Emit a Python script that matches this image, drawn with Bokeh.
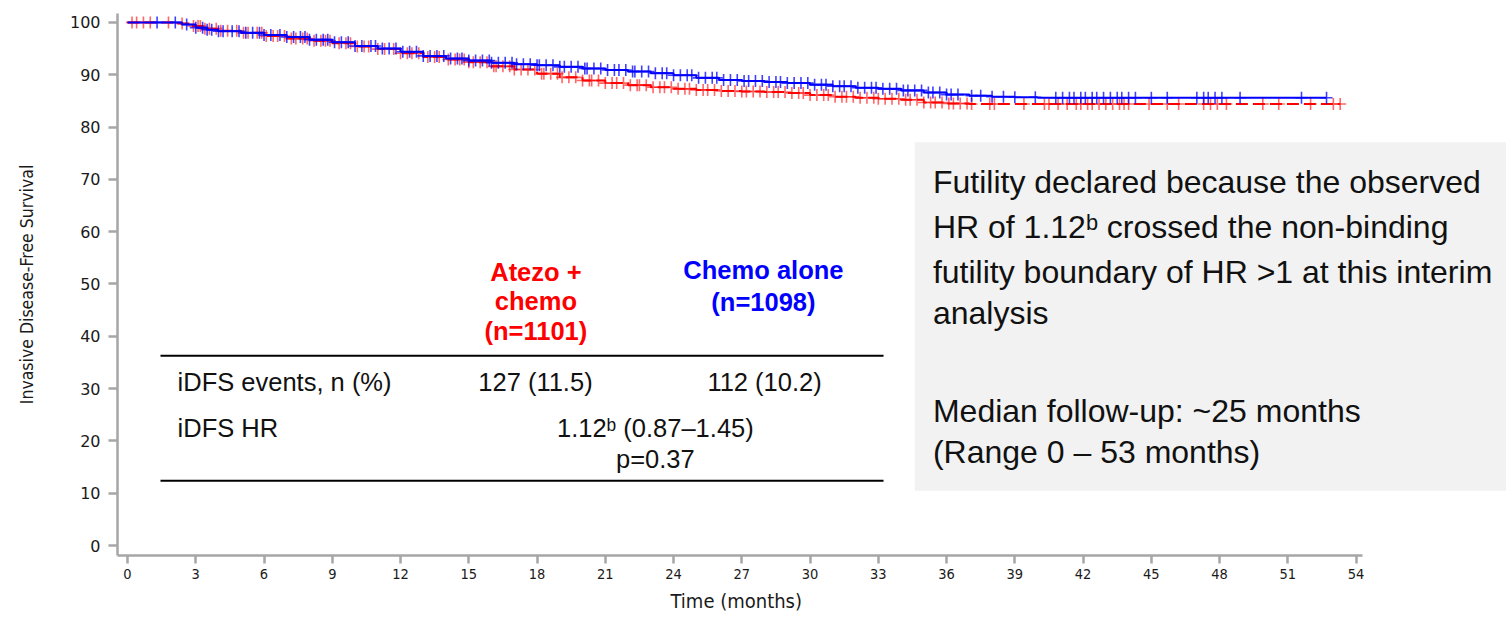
from bokeh.plotting import figure
from bokeh.models import FixedTicker, BoxAnnotation, Range1d, Title
from bokeh.core.properties import value
from bokeh.embed import file_html
from bokeh.resources import INLINE
import numpy as np

# ---------------- data ----------------
atezo_time = [0, 2, 2.8, 3.3, 4, 5, 6, 7, 8, 9, 10, 11, 12, 13, 14, 15, 16, 17, 18, 19,
              20, 21, 22, 23, 24, 25, 26, 27, 28, 29, 30, 31, 32, 33, 34, 35, 36, 37]
atezo_surv = [100, 99.8, 99.3, 98.8, 98.4, 98.0, 97.4, 96.9, 96.5, 96.0, 95.4, 94.9, 94.1,
              93.4, 92.9, 92.4, 91.6, 91.0, 90.2, 89.5, 88.9, 88.4, 88.0, 87.6, 87.3, 87.1,
              86.9, 86.8, 86.7, 86.5, 86.1, 85.8, 85.6, 85.4, 85.2, 84.7, 84.5, 84.4]
atezo_end = 53.3

chemo_time = [0, 2.4, 3.0, 3.5, 4, 5, 6, 7, 8, 9, 10, 11, 12, 13, 14, 15, 16, 17, 18, 19,
              20, 21, 22, 23, 24, 25, 26, 27, 28, 29, 30, 31, 32, 33, 34, 35, 36, 37, 38, 39, 40]
chemo_surv = [100, 99.6, 99.0, 98.6, 98.3, 98.0, 97.6, 97.2, 96.7, 96.2, 95.5, 95.0, 94.4,
              93.6, 93.1, 92.7, 92.3, 92.0, 91.8, 91.5, 91.2, 90.9, 90.6, 90.3, 89.9, 89.4,
              89.0, 88.8, 88.6, 88.4, 88.1, 87.8, 87.5, 87.3, 87.0, 86.6, 86.2, 86.0, 85.8,
              85.7, 85.6]
chemo_end = 52.7

atezo_censor = [0.2, 0.4, 0.7, 1.0, 1.8, 2.4, 2.9, 3.1, 3.2, 3.4, 3.6, 3.9, 4.1, 4.4, 4.8,
                5.1, 5.3, 5.7, 5.9, 6.1, 6.4, 6.6, 6.9, 7.2, 7.4, 7.7, 7.9, 8.2, 8.5, 8.7,
                8.9, 9.3, 9.6, 9.8, 10.1, 10.4, 10.6, 11.0, 11.3, 11.7, 12.0, 12.3, 12.5,
                12.8, 13.2, 13.5, 13.7, 14.1, 14.4, 14.6, 14.8, 15.0, 15.2, 15.5, 15.8,
                16.1, 16.2, 16.5, 16.8, 17.0, 17.3, 17.6, 17.9, 18.2, 18.3, 18.6, 18.9,
                19.1, 19.4, 19.7, 20.0, 20.3, 20.4, 20.7, 21.0, 21.3, 21.5, 21.8, 22.1,
                22.4, 22.5, 22.8, 23.1, 23.4, 23.6, 23.9, 24.2, 24.5, 24.7, 25.0, 25.3,
                25.5, 25.8, 26.1, 26.4, 26.7, 27.0, 27.2, 27.5, 27.8, 28.1, 28.4, 28.6,
                28.9, 29.2, 29.5, 29.7, 30.0, 30.3, 30.6, 30.8, 31.1, 31.4, 31.6, 31.9,
                32.2, 32.5, 32.8, 33.0, 33.3, 33.6, 33.9, 34.2, 34.4, 34.7, 35.0, 35.3,
                35.5, 35.8, 36.1, 36.3, 36.6, 36.9, 37.1, 37.9, 38.1, 39.4, 40.3, 40.5,
                40.9, 41.3, 41.7, 41.9, 42.2, 42.4, 42.7, 43.0, 43.3, 43.6, 43.8, 44.0,
                44.9, 45.7, 46.2, 47.3, 47.6, 47.9, 48.3, 49.9, 50.6, 52.0, 53.0, 53.3]

chemo_censor = [1.3, 2.1, 2.6, 3.0, 3.3, 3.5, 3.7, 4.0, 4.2, 4.6, 4.9, 5.2, 5.5, 5.8, 6.0,
                6.3, 6.7, 7.0, 7.3, 7.6, 7.8, 8.0, 8.3, 8.6, 8.8, 9.1, 9.4, 9.7, 10.0,
                10.3, 10.7, 10.9, 11.2, 11.5, 11.8, 12.1, 12.4, 12.7, 13.0, 13.3, 13.6,
                13.9, 14.2, 14.5, 14.7, 15.0, 15.3, 15.6, 15.9, 16.0, 16.3, 16.6, 16.9,
                17.1, 17.4, 17.7, 18.0, 18.1, 18.4, 18.7, 19.0, 19.2, 19.5, 19.8, 20.1,
                20.2, 20.5, 20.8, 21.1, 21.4, 21.6, 21.9, 22.2, 22.3, 22.6, 22.9, 23.2,
                23.5, 23.7, 24.0, 24.3, 24.6, 24.8, 25.1, 25.4, 25.7, 25.9, 26.2, 26.5,
                26.8, 27.1, 27.3, 27.6, 27.9, 28.2, 28.5, 28.7, 29.0, 29.3, 29.6, 29.9,
                30.2, 30.5, 30.7, 31.0, 31.3, 31.5, 31.8, 32.1, 32.4, 32.7, 32.9, 33.2,
                33.5, 33.8, 34.1, 34.3, 34.6, 34.9, 35.2, 35.4, 35.7, 36.0, 36.2, 36.5,
                37.1, 37.5, 38.0, 38.5, 39.0, 39.9, 40.8, 41.1, 41.4, 41.6, 41.9, 42.1,
                42.4, 42.6, 42.9, 43.2, 43.5, 43.7, 44.0, 44.3, 45.0, 45.7, 47.0, 47.3,
                47.5, 47.8, 48.1, 48.9, 51.6, 52.7]

x_ticks = [0, 3, 6, 9, 12, 15, 18, 21, 24, 27, 30, 33, 36, 39, 42, 45, 48, 51, 54]
y_ticks = [0, 10, 20, 30, 40, 50, 60, 70, 80, 90, 100]

arm_names = ["Atezo +", "chemo", "(n=1101)"]
chemo_names = ["Chemo alone", "(n=1098)"]
row_labels = ["iDFS events, n (%)", "iDFS HR"]
events = ["127 (11.5)", "112 (10.2)"]
hr_text = ["1.12\u1d47 (0.87\u20131.45)", "p=0.37"]
box_lines = ["Futility declared because the observed",
             "HR of 1.12\u1d47 crossed the non-binding",
             "futility boundary of HR >1 at this interim",
             "analysis",
             "Median follow-up: ~25 months",
             "(Range 0 \u2013 53 months)"]

RED = "#ff0000"
BLUE = "#0000ff"
AXIS = "#a6a6a6"
ARIAL = value("Liberation Sans")
TABLE_SIZE = "25.5px"

# ---------------- figure ----------------
p = figure(width=1506, height=620,
           x_range=Range1d(-0.44, 60.61), y_range=Range1d(-1.9, 101.7),
           output_backend="svg", toolbar_location=None,
           min_border_left=117, min_border_right=0,
           min_border_top=13, min_border_bottom=65)
p.outline_line_color = None
p.grid.visible = False
p.background_fill_color = "white"

# axes
p.xaxis.bounds = (-0.44, 54.3)
p.yaxis.bounds = (-1.9, 101.7)
p.xaxis.ticker = FixedTicker(ticks=x_ticks)
p.yaxis.ticker = FixedTicker(ticks=y_ticks)
for ax in (p.xaxis, p.yaxis):
    ax.axis_line_color = AXIS
    ax.axis_line_width = 2.5
    ax.major_tick_line_color = AXIS
    ax.major_tick_line_width = 2.5
    ax.major_tick_in = 0
    ax.minor_tick_line_color = None
    ax.major_label_text_color = "#1a1a1a"
    ax.axis_label_text_color = "#1a1a1a"
    ax.axis_label_text_font_style = "normal"

p.xaxis.major_tick_out = 8
p.xaxis.major_label_standoff = 5
p.xaxis.major_label_text_font = "DejaVu Sans Condensed"
p.xaxis.major_label_text_font_size = "14.5px"

p.yaxis.major_tick_out = 9
p.yaxis.major_label_standoff = 8
p.yaxis.major_label_text_font = "DejaVu Sans"
p.yaxis.major_label_text_font_size = "16px"
p.yaxis.axis_label = "Invasive Disease-Free Survival"
p.yaxis.axis_label_text_font = "DejaVu Sans Condensed"
p.yaxis.axis_label_text_font_size = "17.5px"
p.yaxis.axis_label_standoff = 30

# x axis title, centred under the drawn axis (the frame is wider than the axis)
p.add_layout(Title(text="Time (months)", align="left", offset=553,
                   text_font="DejaVu Sans Condensed", text_font_size="20px",
                   text_font_style="normal", text_color="#1a1a1a",
                   standoff=11), "below")

# gray annotation box
p.add_layout(BoxAnnotation(left=34.6, bottom=10.5, top=77.1,
                           fill_color="#f2f2f2", fill_alpha=1.0, line_color=None,
                           level="underlay"))

# KM curves
def km_xy(times, surv, end):
    return list(times) + [end], list(surv) + [surv[-1]]

def censor_y(times, surv, cens):
    idx = np.searchsorted(np.array(times), np.array(cens), side="right") - 1
    return np.array(surv)[idx]

ax_, ay_ = km_xy(atezo_time, atezo_surv, atezo_end)
cx_, cy_ = km_xy(chemo_time, chemo_surv, chemo_end)

p.step(ax_, ay_, mode="after", line_color=RED, line_width=2, line_dash="12 5")
p.scatter(atezo_censor, censor_y(atezo_time, atezo_surv, atezo_censor),
          marker="cross", size=12, line_color=RED, line_width=1.6, line_alpha=0.6)

p.step(cx_, cy_, mode="after", line_color=BLUE, line_width=2)
p.scatter(chemo_censor, censor_y(chemo_time, chemo_surv, chemo_censor),
          marker="cross", size=12, line_color=BLUE, line_width=1.6, line_alpha=0.75)

# table
p.segment(x0=[1.45, 1.45], y0=[36.3, 12.4], x1=[33.23, 33.23], y1=[36.3, 12.4],
          line_color="black", line_width=2)
p.text(x=[17.95] * 3, y=[52.3, 46.8, 41.1], text=arm_names,
       text_font=ARIAL, text_font_size=TABLE_SIZE, text_font_style="bold",
       text_color=RED, text_align="center", text_baseline="middle")
p.text(x=[27.95] * 2, y=[52.6, 46.6], text=chemo_names,
       text_font=ARIAL, text_font_size=TABLE_SIZE, text_font_style="bold",
       text_color=BLUE, text_align="center", text_baseline="middle")
p.text(x=[2.2, 2.2], y=[31.3, 22.4], text=row_labels,
       text_font=ARIAL, text_font_size=TABLE_SIZE,
       text_color="#111111", text_align="left", text_baseline="middle")
p.text(x=[17.93, 28.0], y=[31.3, 31.3], text=events,
       text_font=ARIAL, text_font_size=TABLE_SIZE,
       text_color="#111111", text_align="center", text_baseline="middle")
p.text(x=[23.2, 23.2], y=[22.4, 16.6], text=hr_text,
       text_font=ARIAL, text_font_size=TABLE_SIZE,
       text_color="#111111", text_align="center", text_baseline="middle")

# text in the gray box
p.text(x=[35.4] * 6, y=[69.4, 60.8, 52.2, 44.4, 25.8, 17.8], text=box_lines,
       text_font=ARIAL, text_font_size="32px",
       text_color="#111111", text_align="left", text_baseline="middle")

open("out.html", "w").write(file_html(p, INLINE))
